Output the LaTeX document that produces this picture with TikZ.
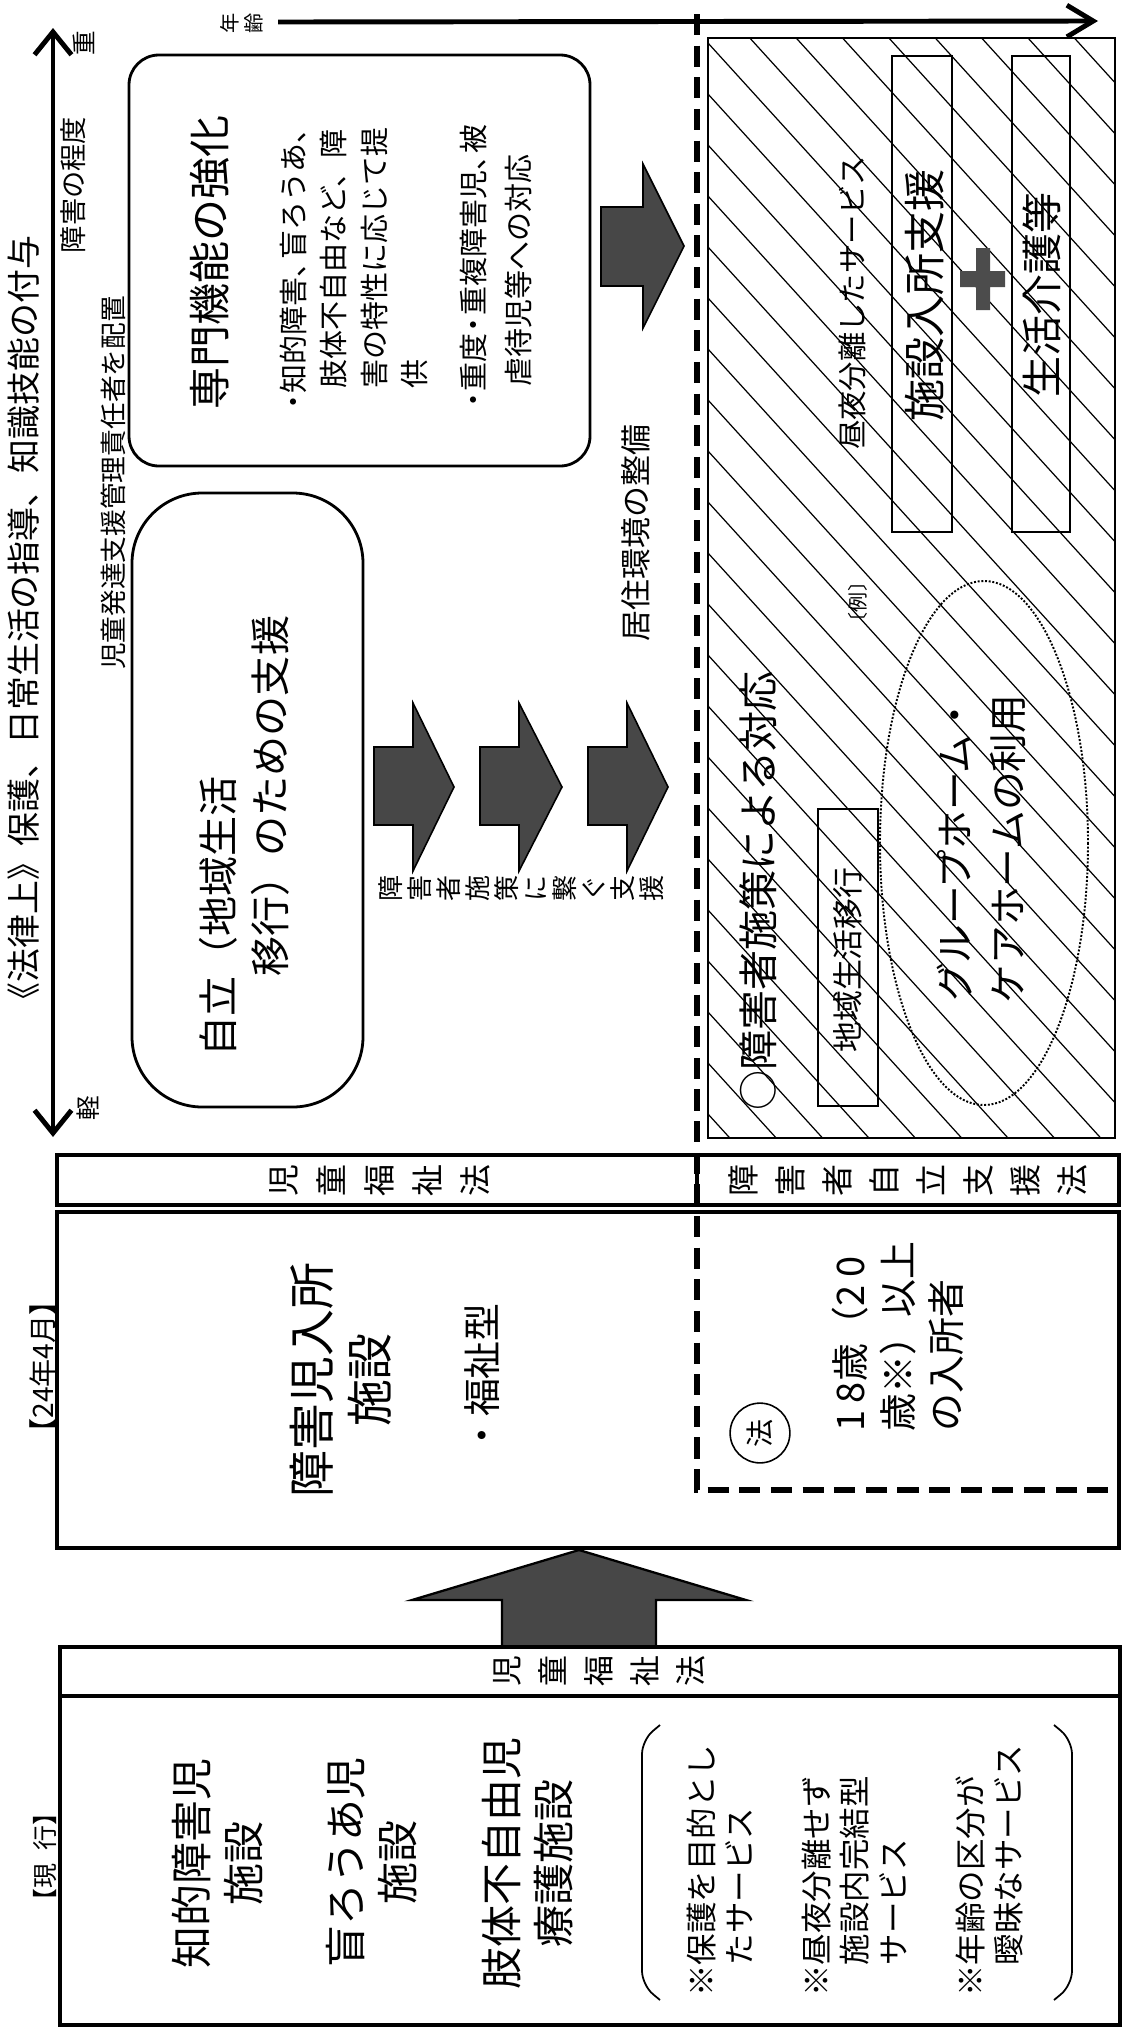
\documentclass[tikz,border=0pt]{standalone}
\usepackage{fontspec}
\setmainfont{Noto Sans CJK JP}
\usetikzlibrary{arrows.meta}
\newcommand{\fz}[2]{\fontsize{#1pt}{#2pt}\selectfont}
\newcommand{\hdot}{\makebox[0.6em][c]{・}}
\newcommand{\hcomma}{\makebox[0.6em][l]{、}}
\begin{document}
\begin{tikzpicture}[x=0.2mm,y=-0.2mm,
  rt/.style={rotate=90, inner sep=0pt},
  frame/.style={draw, line width=2.3pt},
  rbox/.style={draw, line width=1.6pt},
  thinbox/.style={draw, line width=0.9pt},
  blk/.style={fill=black!72, draw=black, line width=0.9pt, line join=miter},
  axis/.style={line width=2.8pt},
  hatch/.style={line width=0.7pt},
]
\fill[white] (0,0) rectangle (1125,2030);
\useasboundingbox (0,0) rectangle (1125,2030);

% ---------- axes ----------
\coordinate (axT) at (53,28);
\coordinate (axB) at (53,1137);
\draw[axis, {Straight Barb[length=13pt,width=21pt]}-{Straight Barb[length=13pt,width=21pt]}] (axB) -- (axT);
\node[rt, font=\fz{14}{16}] (heavy) at (84,43) {重};
\node[rt, font=\fz{14}{16}] (light) at (88,1108) {軽};
\coordinate (ageS) at (278,22);
\coordinate (ageE) at (1098,21);
\draw[axis, -{Straight Barb[length=15pt,width=18pt]}] (ageS) -- (ageE);
\node[rt, align=center, font=\fz{11.5}{13.5}] (age) at (242,23) {年\\齢};

\node[rt, font=\fz{19.3}{24}] (law) at (24,626) {《法律上》保護、日常生活の指導、知識技能の付与};
\node[rt, font=\fz{15.5}{18}] (degree) at (73,185) {障害の程度};
\node[rt, font=\fz{15.2}{18}] (mgr) at (113,483) {児童発達支援管理責任者を配置};

% ---------- specialised box ----------
\draw[rbox, rounded corners=17pt] (129,55) rectangle (590,466);
\node[rt, font=\fz{23.9}{28}] (spec) at (210,262) {専門機能の強化};
\node[rt, anchor=west, align=left, font=\fz{16.5}{23}] (specA) at (354,411)
  {\hdot 知的障害\hcomma 盲ろうあ\hcomma\\\hspace*{0.75em}肢体不自由など、障\\\hspace*{0.75em}害の特性に応じて提\\\hspace*{0.75em}供};
\node[rt, anchor=west, align=left, font=\fz{16.5}{25.6}] (specB) at (496,409)
  {\hdot 重度\hdot 重複障害児\hcomma 被\\\hspace*{0.75em}虐待児等への対応};

% ---------- independence box ----------
\draw[rbox, rounded corners=40pt] (132,493) rectangle (363,1107);
\node[rt, anchor=west, align=left, font=\fz{22.8}{29.6}] (indep) at (244,1057)
  {自立（地域生活\\\hspace*{2em}移行）のための支援};

% ---------- small block arrows ----------
\fill[blk] (374,747) -- (413,747) -- (413,703) -- (454,787) -- (413,871) -- (413,825) -- (374,825) -- cycle;
\fill[blk] (480,747) -- (519,747) -- (519,703) -- (562,787) -- (519,871) -- (519,825) -- (480,825) -- cycle;
\fill[blk] (588,747) -- (627,747) -- (627,703) -- (668,787) -- (627,871) -- (627,825) -- (588,825) -- cycle;
\node[rt, align=center, font=\fz{14.8}{16.5}] (link) at (521,888) {障\\害\\者\\施\\策\\に\\繋\\ぐ\\支\\援};
\fill[blk] (601,207) -- (643,207) -- (643,164) -- (684,246) -- (643,328) -- (643,286) -- (601,286) -- cycle;
\node[rt, font=\fz{17.6}{20}] (env) at (636,533) {居住環境の整備};

% ---------- hatched box ----------
\begin{scope}
  \clip (708,38) rectangle (1115,1138);
  \foreach \k in {-8,...,23} {
    \draw[hatch] (708,-8+51*\k) -- ++(1000,1100);
  }
\end{scope}
\draw[thinbox] (708,38) rectangle (1115,1138);
\node[rt, font=\fz{16.7}{20}] (dayn) at (852,303) {昼夜分離したサービス};
\draw[thinbox] (892,56) rectangle (952,532);
\node[rt, font=\fz{23.9}{26}] (shisetsu) at (925,295) {施設入所支援};
\draw[thinbox] (1012,56) rectangle (1070,532);
\node[rt, font=\fz{23.3}{26}] (seikatsu) at (1042,295) {生活介護等};
\fill[black!70] (976,248) -- (990,248) -- (990,271) -- (1005,271) -- (1005,287) -- (990,287) -- (990,310) -- (976,310) -- (976,287) -- (960,287) -- (960,271) -- (976,271) -- cycle;
\node[rt, font=\fz{11.4}{13}] (rei) at (858,602) {〔例〕};
\node[rt, font=\fz{22.8}{26}] (taio) at (758,891) {○障害者施策による対応};
\draw[thinbox] (818,809) rectangle (878,1106);
\node[rt, font=\fz{17.6}{20}] (chiiki) at (848,960) {地域生活移行};
\draw[line width=1.1pt, densely dotted] (984,843) ellipse [x radius=104, y radius=262];
\node[rt, align=center, font=\fz{22}{30.2}] (gh) at (981,849) {グループホーム・\\ケアホームの利用};

% ---------- 24-year box ----------
\draw[frame] (57,1155) rectangle (1119,1205);
\draw[frame] (697,1155) -- (697,1205);
\node[rt, align=center, font=\fz{18.2}{27.3}] (jidoA) at (380,1180) {児\\童\\福\\祉\\法};
\node[rt, align=center, font=\fz{18.2}{26.7}] (jiritsu) at (908,1180) {障\\害\\者\\自\\立\\支\\援\\法};
\draw[frame] (57,1212) rectangle (1119,1548);
\node[rt, font=\fz{16}{18}] (apr) at (43,1367) {【24年4月】};
\node[rt, align=center, font=\fz{26.7}{33}] (nyusho) at (341,1380) {障害児入所\\施設};
\node[rt, font=\fz{21.6}{25}] (fukushi) at (482,1379) {・福祉型};
\node[rt, circle, draw, line width=0.9pt, minimum size=34pt, font=\fz{16}{18}] (hou) at (760,1433) {法};
\node[rt, anchor=west, align=left, font=\fz{21.6}{27.3}] (adult) at (898,1432)
  {1\kern0.2em 8歳（2\kern0.2em 0\\歳※）以上\\の入所者};

% dashed boundary
\coordinate (dA) at (697,14);
\coordinate (dB) at (697,1490);
\coordinate (dC) at (1119,1490);
\draw[line width=3.4pt, dash pattern=on 12pt off 6pt] (dA) -- (dB) -- (dC);

% ---------- big arrow ----------
\fill[blk, line width=1.3pt] (502,1647) -- (502,1600) -- (412,1600) -- (579,1550) -- (746,1600) -- (656,1600) -- (656,1647) -- cycle;

% ---------- current box ----------
\draw[frame] (60,1647) rectangle (1120,2025);
\draw[frame] (60,1696) -- (1120,1696);
\node[rt, align=center, font=\fz{17.6}{26.2}] (jidoB) at (599,1671) {児\\童\\福\\祉\\法};
\node[rt, font=\fz{14.2}{16}] (cur) at (45,1857) {【現\hspace{0.5em}行】};
\node[rt, align=center, font=\fz{23.9}{29.6}] (chiteki) at (217,1863) {知的障害児\\施設};
\node[rt, align=center, font=\fz{23.9}{29.6}] (mou) at (372,1862) {盲ろうあ児\\施設};
\node[rt, align=center, font=\fz{23.9}{29.6}] (shitai) at (528,1863) {肢体不自由児\\療護施設};
\draw[line width=1pt, rounded corners=8pt] (660,1725) -- (642,1740) -- (642,1985) -- (660,2000);
\draw[line width=1pt, rounded corners=8pt] (1054,1725) -- (1072,1740) -- (1072,1985) -- (1054,2000);
\node[rt, anchor=west, align=left, font=\fz{17.9}{21.9}] (notes) at (855,1997)
  {※保護を目的とし\\\hspace*{1em}たサービス\\[21.9pt]※昼夜分離せず\\\hspace*{1em}施設内完結型\\\hspace*{1em}サービス\\[21.9pt]※年齢の区分が\\\hspace*{1em}曖昧なサービス};
\end{tikzpicture}
\end{document}
